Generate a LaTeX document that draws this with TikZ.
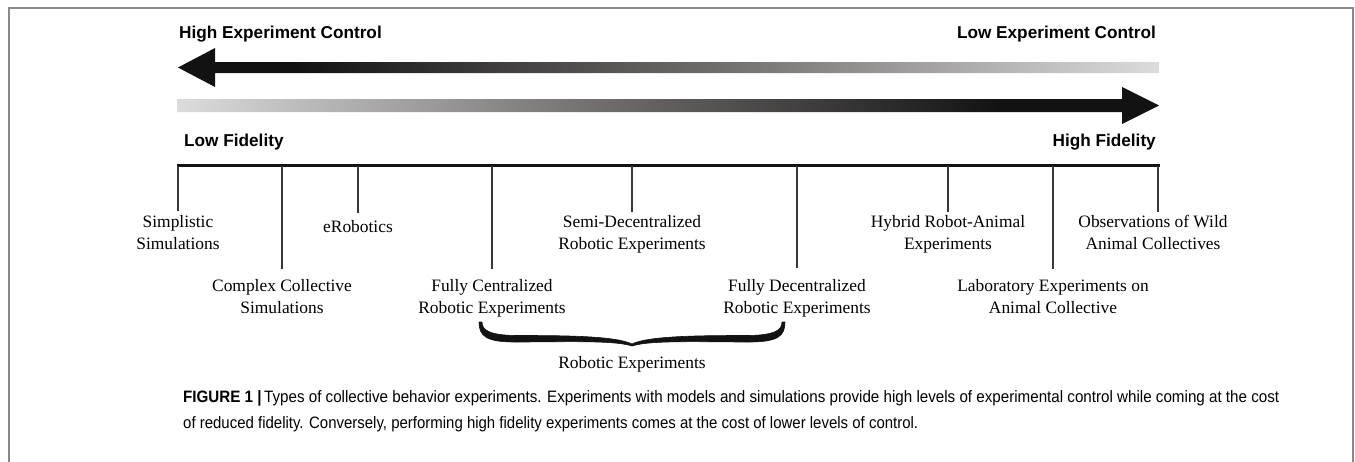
\documentclass[tikz,border=0pt]{standalone}
\usepackage{fontspec}
\setmainfont{Liberation Serif}
\newfontfamily\hsans{Liberation Sans}
\usepackage{graphicx}
\definecolor{arrdark}{HTML}{121212}
\definecolor{arrmid}{HTML}{6E6B6A}
\definecolor{arrlight}{HTML}{DCDCDC}
\definecolor{tickgray}{HTML}{383838}
\definecolor{framegray}{HTML}{8A8A8A}
% the path's bounding box is mapped onto 25bp--75bp of the shading
\pgfdeclarehorizontalshading{upshade}{100bp}{color(0bp)=(arrdark); color(31bp)=(arrdark); color(52bp)=(arrmid); color(75bp)=(arrlight); color(100bp)=(arrlight)}
\pgfdeclarehorizontalshading{downshade}{100bp}{color(0bp)=(arrlight); color(25bp)=(arrlight); color(47bp)=(arrmid); color(67bp)=(arrdark); color(100bp)=(arrdark)}
\newcommand\labfont{\fontsize{17.4}{21.5}\selectfont}
\newcommand\headfont{\hsans\bfseries\fontsize{17.2}{20}\selectfont}
\newcommand\capfont{\hsans\fontsize{16.5}{19}\selectfont}
\newcommand\twoline[2]{\begin{tabular}[t]{@{}c@{}}#1\\#2\end{tabular}}
\begin{document}
\begin{tikzpicture}[x=1pt,y=-1pt,
  lab/.style={font=\labfont, inner sep=0pt, anchor=base},
  headw/.style={font=\headfont, inner sep=0pt, anchor=base west},
  heade/.style={font=\headfont, inner sep=0pt, anchor=base east},
  tickline/.style={line width=1.4pt, draw=tickgray},
  timeline/.style={line width=3.8pt, draw=arrdark},
  bracestyle/.style={fill=arrdark, draw=arrdark, line width=0.6pt, line join=round},
  capline/.style={inner sep=0pt, anchor=base west}]
\useasboundingbox (0,0) rectangle (1355,461);
% frame
\draw[framegray, line width=1.3pt] (9,462) -- (9,8) -- (1353,8) -- (1353,462);
% headings
\node[headw] (hec) at (179,38) {High Experiment Control};
\node[heade] (lec) at (1156,38) {Low Experiment Control};
\node[headw] (lf) at (184,146) {Low Fidelity};
\node[heade] (hf) at (1156,146) {High Fidelity};
% gradient arrows
\shade[shading=upshade] (178,67.5) -- (215,48) -- (215,62) -- (1159,62) -- (1159,73) -- (215,73) -- (215,87) -- cycle;
\shade[shading=downshade] (177,99) -- (1122,99) -- (1122,87) -- (1159,105.5) -- (1122,124) -- (1122,112) -- (177,112) -- cycle;
% timeline
\coordinate (t1) at (178,165.5);
\coordinate (t2) at (282,165.5);
\coordinate (t3) at (358,165.5);
\coordinate (t4) at (492,165.5);
\coordinate (t5) at (632,165.5);
\coordinate (t6) at (797,165.5);
\coordinate (t7) at (948,165.5);
\coordinate (t8) at (1053,165.5);
\coordinate (t9) at (1158,165.5);
\draw[timeline] (176.5,165.5) -- (1159.5,165.5);
% tick ends
\coordinate (e1) at (178,211);
\coordinate (e2) at (282,269);
\coordinate (e3) at (358,213);
\coordinate (e4) at (492,269);
\coordinate (e5) at (632,212);
\coordinate (e6) at (797,268);
\coordinate (e7) at (948,212);
\coordinate (e8) at (1053,269);
\coordinate (e9) at (1158,212);
\foreach \i in {1,...,9} { \draw[tickline] (t\i) -- (e\i); }
% labels
\node[lab] (l1) at (178,227.5) {\twoline{Simplistic}{Simulations}};
\node[lab] (l2) at (282,291.5) {\twoline{Complex Collective}{Simulations}};
\node[lab] (l3) at (358,232) {eRobotics};
\node[lab] (l4) at (492,291.5) {\twoline{Fully Centralized}{Robotic Experiments}};
\node[lab] (l5) at (632,227.5) {\twoline{Semi-Decentralized}{Robotic Experiments}};
\node[lab] (l6) at (797,291.5) {\twoline{Fully Decentralized}{Robotic Experiments}};
\node[lab] (l7) at (948,227.5) {\twoline{Hybrid Robot-Animal}{Experiments}};
\node[lab] (l8) at (1053,291.5) {\twoline{Laboratory Experiments on}{Animal Collective}};
\node[lab] (l9) at (1153,227.5) {\twoline{Observations of Wild}{Animal Collectives}};
% brace (tapered, filled)
\path[bracestyle]
  (479,322) .. controls (479,336) and (486,342) .. (515,342)
  .. controls (562,342) and (614,340) .. (632,346)
  .. controls (650,340) and (702,342) .. (749,342)
  .. controls (778,342) and (785,336) .. (785,322)
  -- (782,322)
  .. controls (782,331) and (773,335.5) .. (745,335.5)
  .. controls (698,335.5) and (648,336) .. (632,344)
  .. controls (616,336) and (566,335.5) .. (519,335.5)
  .. controls (491,335.5) and (482,331) .. (482,322)
  -- cycle;
\node[lab] (re) at (632,368) {Robotic Experiments};
% caption
\node[capline] (cap1) at (183,402) {\resizebox{1096pt}{\height}{\capfont\textbf{FIGURE 1 |}\,Types of collective behavior experiments. Experiments with models and simulations provide high levels of experimental control while coming at the cost}};
\node[capline] (cap2) at (183,428) {\resizebox{735pt}{\height}{\capfont of reduced fidelity. Conversely, performing high fidelity experiments comes at the cost of lower levels of control.}};
\end{tikzpicture}
\end{document}
